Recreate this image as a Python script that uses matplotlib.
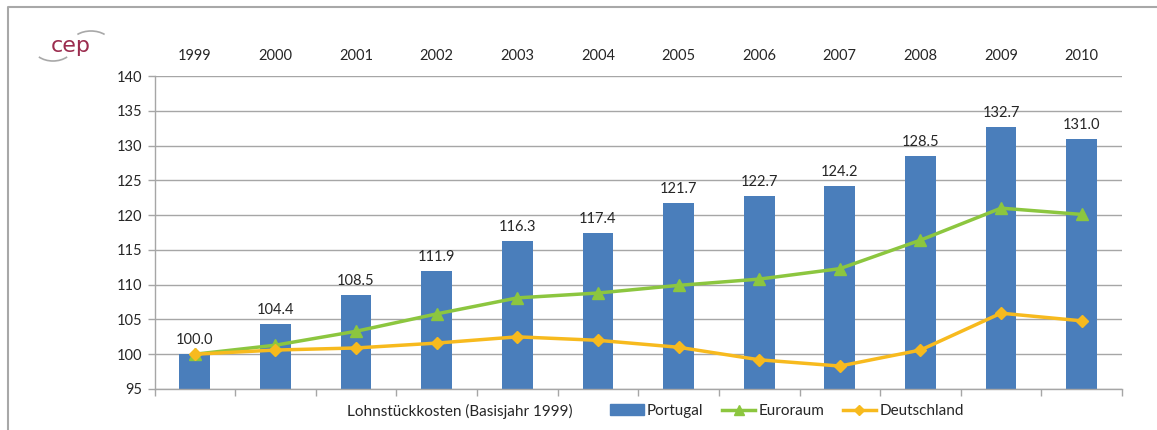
import matplotlib
matplotlib.use("Agg")
import matplotlib.pyplot as plt
from matplotlib.patches import Arc
from matplotlib.lines import Line2D
import numpy as np

plt.rcParams['font.family'] = ['Lato', 'DejaVu Sans']

years = ["1999", "2000", "2001", "2002", "2003", "2004",
         "2005", "2006", "2007", "2008", "2009", "2010"]
portugal = [100.0, 104.4, 108.5, 111.9, 116.3, 117.4,
            121.7, 122.7, 124.2, 128.5, 132.7, 131.0]
euroraum = [100.0, 101.3, 103.3, 105.8, 108.1, 108.8,
            109.9, 110.8, 112.3, 116.4, 121.0, 120.1]
deutschland = [100.0, 100.6, 100.9, 101.6, 102.5, 102.0,
               101.0, 99.2, 98.3, 100.6, 105.9, 104.8]
y_ticks = [95, 100, 105, 110, 115, 120, 125, 130, 135, 140]
legend_title = "Lohnstückkosten (Basisjahr 1999)"

c_bar = "#4A7EBB"
c_green = "#8CC63F"
c_yellow = "#F7BA1E"
c_grid = "#A6A6A6"
c_text = "#262626"

W, H = 1157, 430
fig = plt.figure(figsize=(W / 100, H / 100), dpi=100)
fig.patch.set_facecolor("white")

# outer frame (left and top edges)
frame = fig.add_axes([0, 0, 1, 1], zorder=-5)
frame.set_xlim(0, W)
frame.set_ylim(H, 0)
frame.axis("off")
frame.plot([8, 8, W], [H, 7, 7], color="#A8A8A8", lw=1.5)

# cep logo (y axis of this overlay runs downward)
frame.text(71, 46, "cep", fontsize=16, color="#9B2C4E", ha="center",
           va="center", family=["DejaVu Sans"])
frame.add_patch(Arc((91, 44), 40, 26, theta1=215, theta2=325,
                    color="#A8A8A8", lw=1.2))
frame.add_patch(Arc((53, 47), 40, 28, theta1=35, theta2=145,
                    color="#A8A8A8", lw=1.2))

x = np.arange(len(years))
ax = fig.add_axes([154.5 / W, 1 - 389 / H, (1122 - 154.5) / W, (389 - 76) / H])
ax.bar(x, portugal, width=0.38, color=c_bar, bottom=0, zorder=2)
ax.plot(x, euroraum, color=c_green, lw=2.5, marker="^", ms=8, zorder=3)
ax.plot(x, deutschland, color=c_yellow, lw=2.5, marker="D", ms=6, zorder=4)

for xi, v in zip(x, portugal):
    ax.text(xi, v + 1.0, f"{v:.1f}", ha="center", va="bottom",
            fontsize=10.5, color=c_text, zorder=5)

ax.set_xlim(-0.5, len(years) - 0.5)
ax.set_ylim(95, 140)
ax.set_yticks(y_ticks)
ax.set_yticklabels([str(t) for t in y_ticks], fontsize=10.5, color=c_text)
ax.yaxis.grid(True, color=c_grid, lw=1.0, zorder=0)
ax.set_axisbelow(True)

ax.set_xticks(x)
ax.set_xticklabels(years, fontsize=10.5, color=c_text)
ax.tick_params(axis="x", which="major", top=False, bottom=False,
               labeltop=True, labelbottom=False, pad=5.5)
ax.set_xticks(np.arange(-0.5, len(years)), minor=True)
ax.tick_params(axis="x", which="minor", bottom=True, length=5,
               color=c_grid, width=1.0)
ax.tick_params(axis="y", length=5, color=c_grid, width=1.0, pad=4)

for s in ["top", "right"]:
    ax.spines[s].set_visible(False)
for s in ["left", "bottom"]:
    ax.spines[s].set_color(c_grid)
    ax.spines[s].set_linewidth(1.0)

# legend row
fig.text(460 / W, 1 - 411 / H, legend_title, ha="center", va="center",
         fontsize=11, color=c_text)
handles = [
    plt.Rectangle((0, 0), 1, 1, color=c_bar),
    Line2D([], [], color=c_green, lw=2.5, marker="^", ms=7),
    Line2D([], [], color=c_yellow, lw=2.5, marker="D", ms=5),
]
fig.legend(handles, ["Portugal", "Euroraum", "Deutschland"],
           loc="center", bbox_to_anchor=(787 / W, 1 - 411 / H), ncol=3,
           frameon=False, fontsize=11, handlelength=2.2,
           handletextpad=0.2, columnspacing=1.2, labelcolor=c_text)

fig.savefig("out.png", dpi=100, facecolor="white")
